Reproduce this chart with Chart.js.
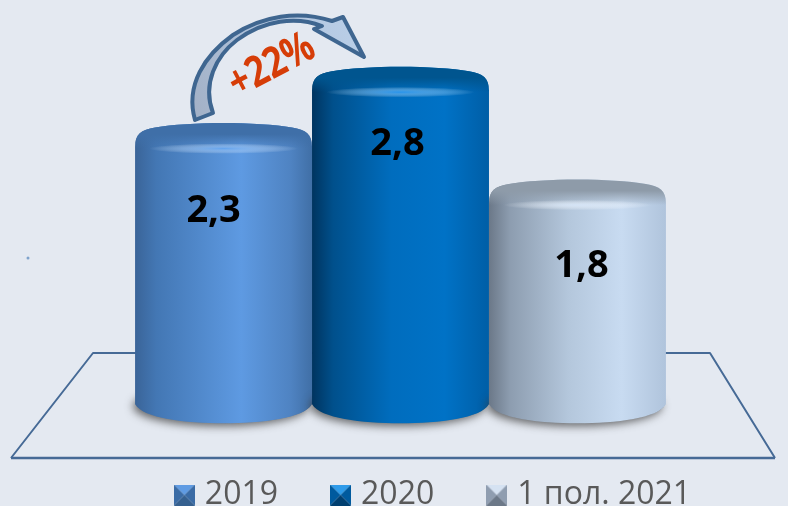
<!DOCTYPE html>
<html><head><meta charset="utf-8">
<style>html,body{margin:0;padding:0;background:#E4E9F1;overflow:hidden}canvas{display:block}</style>
<script src="https://cdn.jsdelivr.net/npm/chart.js@4"></script></head>
<body><canvas id="c" width="788" height="506"></canvas>
<script>
const categories = [''];
const seriesNames = ['2019', '2020', '1 пол. 2021'];
const seriesValues = [[2.3], [2.8], [1.8]];
const growthLabel = '+22%';

const palettes = [
  {stops:[[0,'#3A6498'],[.12,'#4377B4'],[.6,'#5E9AE2'],[.88,'#4F83C2'],[1,'#406FA6']],cap:'#3F6FA8',hi:'rgba(100,165,240,.9)',top:'#5F9BE3',side:'#3A6BA5',bot:'#35608F'},
  {stops:[[0,'#00345F'],[.12,'#00508C'],[.45,'#006DBE'],[.75,'#0072C6'],[1,'#005EA6']],cap:'#00558F',hi:'rgba(40,150,240,.9)',top:'#2E9BEA',side:'#005A9E',bot:'#003F70'},
  {stops:[[0,'#6B7888'],[.12,'#8D9DB0'],[.45,'#B4C7DC'],[.75,'#C8DBF1'],[1,'#B0C4DC']],cap:'#8E9BA9',hi:'rgba(215,230,248,.9)',top:'#D5E2F2',side:'#8F9DB0',bot:'#6C7888'}
];

function icon(p){
  const c=document.createElement('canvas');c.width=21;c.height=21;const g=c.getContext('2d');
  const tri=(a,b,col)=>{g.fillStyle=col;g.beginPath();g.moveTo(a[0],a[1]);g.lineTo(b[0],b[1]);g.lineTo(10.5,10.5);g.closePath();g.fill();};
  tri([0,0],[21,0],p.top);tri([0,0],[0,21],p.side);tri([21,0],[21,21],p.side);tri([0,21],[21,21],p.bot);
  return c;
}
const icons=palettes.map(icon);

const labelOffsets=[89,78,87], labelShift=[-10,-3,4];

function drawCylinder(ctx,bar,p,value,i){
  const W=bar.width,x=bar.x-W/2,y=bar.y,cx=bar.x,base=bar.base,bottom=base+41;
  const outline=()=>{
    ctx.beginPath();
    ctx.moveTo(x,y+24);
    ctx.bezierCurveTo(x,y+12,x+6,y+7,x+20,y+5);
    ctx.bezierCurveTo(x+W*.3,y-1,x+W*.7,y-1,x+W-20,y+5);
    ctx.bezierCurveTo(x+W-6,y+7,x+W,y+12,x+W,y+24);
    ctx.lineTo(x+W,bottom-19);
    ctx.bezierCurveTo(x+W-8,bottom-5,x+W*.72,bottom,cx,bottom);
    ctx.bezierCurveTo(x+W*.28,bottom,x+8,bottom-5,x,bottom-19);
    ctx.closePath();
  };
  ctx.save();
  ctx.shadowColor='rgba(60,60,60,.75)';ctx.shadowBlur=9;ctx.shadowOffsetX=-3;ctx.shadowOffsetY=3;
  ctx.fillStyle='#777';
  ctx.beginPath();ctx.ellipse(cx,bottom-20,W/2-1,20,0,0,Math.PI*2);ctx.fill();
  ctx.restore();
  const g=ctx.createLinearGradient(x,0,x+W,0);
  p.stops.forEach(s=>g.addColorStop(s[0],s[1]));
  ctx.save();outline();ctx.fillStyle=g;ctx.fill();ctx.clip();
  const v=ctx.createLinearGradient(0,y,0,y+26);
  v.addColorStop(0,p.cap);v.addColorStop(.45,p.cap);v.addColorStop(1,p.cap+'00');
  ctx.fillStyle=v;ctx.fillRect(x,y-2,W,28);
  ctx.save();ctx.translate(cx,y+26);ctx.scale(1,.07);
  const h=ctx.createRadialGradient(0,0,0,0,0,W*.42);
  h.addColorStop(0,p.hi);h.addColorStop(1,'rgba(255,255,255,0)');
  ctx.fillStyle=h;ctx.beginPath();ctx.arc(0,0,W*.42,0,Math.PI*2);ctx.fill();ctx.restore();
  ctx.restore();
  ctx.fillStyle='#000';ctx.font='bold 38px "Open Sans"';ctx.textAlign='center';ctx.textBaseline='middle';
  ctx.fillText(String(value).replace('.',','),cx+labelShift[i],y+labelOffsets[i]);
}

const scenery={
  id:'scenery',
  afterLayout(chart){
    const l=chart.legend;l.left+=35;l.right+=35;l.top+=15;l.bottom+=15;
  },
  beforeDatasetsDraw(chart){
    const c=chart.ctx;
    c.save();
    c.strokeStyle='#466A96';c.lineJoin='round';
    c.lineWidth=2;c.beginPath();c.moveTo(11,458);c.lineTo(93,353);c.lineTo(710,353);c.lineTo(775,458);c.stroke();
    c.lineWidth=2.5;c.beginPath();c.moveTo(11,458);c.lineTo(775,458);c.stroke();
    c.fillStyle='#7FA3CC';c.beginPath();c.arc(28,258,1.5,0,Math.PI*2);c.fill();
    c.restore();
    seriesValues.forEach((vals,i)=>{
      chart.getDatasetMeta(i).data.forEach((bar,j)=>{ c.save();drawCylinder(c,bar,palettes[i],vals[j],i);c.restore(); });
    });
    c.save();
    const g=c.createLinearGradient(195,120,364,57);
    g.addColorStop(0,'#A3B1C6');g.addColorStop(.5,'#AFC2DB');g.addColorStop(1,'#B9CEE7');
    c.fillStyle=g;c.strokeStyle='#3F6690';c.lineWidth=4;c.lineJoin='round';
    c.beginPath();c.moveTo(195,120);
    c.bezierCurveTo(185,85,205,55,233,35);
    c.bezierCurveTo(262,16,298,10,332,21);
    c.lineTo(343,17);c.lineTo(364,57);c.lineTo(314,29);c.lineTo(322,26);
    c.bezierCurveTo(296,16,264,20,237,40);
    c.bezierCurveTo(216,56,202,84,213,113);
    c.closePath();c.fill();c.stroke();
    c.translate(272,66);c.rotate(-28*Math.PI/180);c.scale(.85,1.05);
    c.fillStyle='#D63D08';c.font='bold 41px "Open Sans"';c.textAlign='center';c.textBaseline='middle';
    c.fillText(growthLabel,0,0);
    c.restore();
  },
  beforeDatasetDraw(){return false;}
};

new Chart(document.getElementById('c'),{
  type:'bar',
  data:{labels:categories,datasets:seriesNames.map((n,i)=>({label:n,data:seriesValues[i],backgroundColor:palettes[i].stops[2][1],categoryPercentage:0.685,barPercentage:1}))},
  options:{
    responsive:false,animation:false,
    layout:{padding:{left:13,right:0,top:0,bottom:0}},
    scales:{x:{display:false},y:{display:false,min:-0.2105,max:3.386}},
    plugins:{tooltip:{enabled:false},
      legend:{position:'bottom',onClick:null,labels:{usePointStyle:true,pointStyleWidth:9,padding:58,color:'#595959',font:{family:'"Open Sans"',size:32},
        generateLabels:(chart)=>seriesNames.map((n,i)=>({text:n,datasetIndex:i,pointStyle:icons[i],fillStyle:'#000',strokeStyle:'#000',lineWidth:0,fontColor:'#595959'}))}}}
  },
  plugins:[scenery]
});
</script></body></html>
